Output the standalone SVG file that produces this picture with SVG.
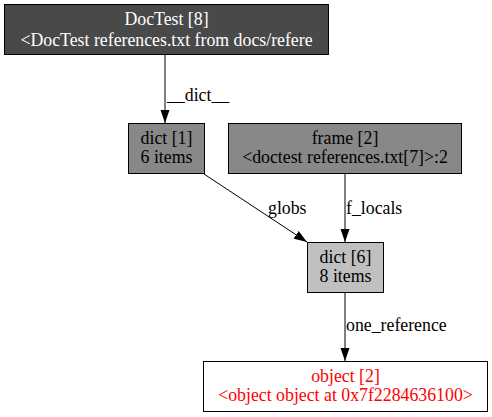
<svg xmlns="http://www.w3.org/2000/svg" width="492" height="417" viewBox="0 0 492 417">
<defs>
<style>
text{font-family:"Liberation Serif","Times New Roman",serif;font-size:17.8px;text-anchor:middle}
.n{stroke:#000;stroke-width:1}
.e{stroke:#000;stroke-width:1;fill:none}
.l{text-anchor:start}
</style>
<marker id="ah" viewBox="0 0 13 10" refX="13" refY="5" markerWidth="13" markerHeight="10" markerUnits="userSpaceOnUse" orient="auto">
<path d="M0,0.5 L13,5 L0,9.5 Z" fill="#000"/>
</marker>
</defs>
<rect width="492" height="417" fill="#fff"/>
<g id="edges">
<line class="e" x1="165" y1="55" x2="165" y2="123" marker-end="url(#ah)"/>
<text class="l" x="167" y="101">__dict__</text>
<line class="e" x1="204" y1="174" x2="307" y2="242" marker-end="url(#ah)"/>
<text class="l" x="268" y="214">globs</text>
<line class="e" x1="345" y1="173" x2="345" y2="242" marker-end="url(#ah)"/>
<text class="l" x="346" y="214">f_locals</text>
<line class="e" x1="345" y1="293" x2="345" y2="361" marker-end="url(#ah)"/>
<text class="l" x="346" y="331">one_reference</text>
</g>
<g id="node-doctest">
<rect class="n" x="4.5" y="4.5" width="324" height="50" fill="#494949"/>
<text x="166.5" y="25" fill="#fff">DocTest [8]</text>
<text x="166.5" y="46" fill="#fff">&lt;DocTest references.txt from docs/refere</text>
</g>
<g id="node-dict1">
<rect class="n" x="128.5" y="123.5" width="76" height="50" fill="#888"/>
<text x="166.5" y="144">dict [1]</text>
<text x="166.5" y="163">6 items</text>
</g>
<g id="node-frame">
<rect class="n" x="228.5" y="123.5" width="233" height="50" fill="#888"/>
<text x="345" y="144">frame [2]</text>
<text x="345" y="163">&lt;doctest references.txt[7]&gt;:2</text>
</g>
<g id="node-dict6">
<rect class="n" x="307.5" y="242.5" width="76" height="50" fill="#c0c0c0"/>
<text x="345.5" y="263">dict [6]</text>
<text x="345.5" y="282">8 items</text>
</g>
<g id="node-object">
<rect class="n" x="203.5" y="361.5" width="284" height="50" fill="#fff"/>
<text x="345.5" y="382" fill="#f00">object [2]</text>
<text x="345.5" y="401" fill="#f00">&lt;object object at 0x7f2284636100&gt;</text>
</g>
</svg>
